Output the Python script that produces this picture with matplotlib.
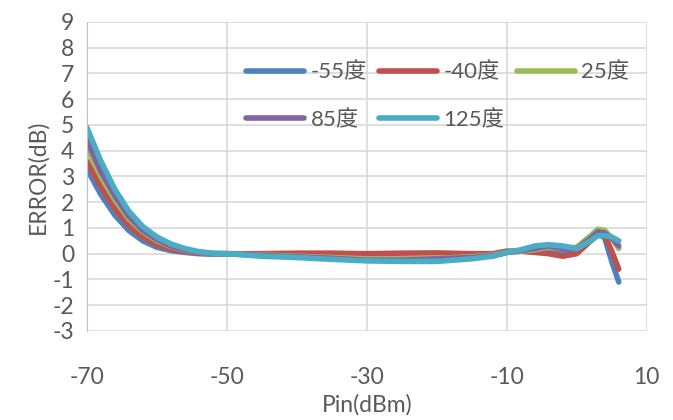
import numpy as np
import matplotlib
matplotlib.use("Agg")
import matplotlib.pyplot as plt

plt.rcParams['font.family'] = ['Lato', 'Noto Sans CJK SC', 'DejaVu Sans']
plt.rcParams['axes.unicode_minus'] = False

# data
pin = [-70, -68, -66, -64, -62, -60, -58, -56, -54, -52, -50, -45, -40, -35, -30,
       -25, -20, -15, -12, -10, -8, -6, -4, -2, 0, 2, 3, 4, 5, 6]
err_m55 = [3.3, 2.3, 1.5, 0.9, 0.5, 0.25, 0.12, 0.05, 0.0, -0.02, 0.0, -0.05, -0.1, -0.15, -0.2,
           -0.22, -0.22, -0.15, -0.08, 0.05, 0.1, 0.15, 0.2, 0.1, 0.15, 0.6, 0.8, 0.6, -0.3, -1.1]
err_m40 = [3.6, 2.6, 1.75, 1.1, 0.65, 0.35, 0.18, 0.08, 0.02, 0.0, 0.0, 0.0, 0.02, 0.02, 0.0,
           0.02, 0.03, 0.0, 0.0, 0.1, 0.1, 0.05, 0.0, -0.1, 0.0, 0.5, 0.75, 0.7, 0.1, -0.6]
err_25 = [4.1, 3.0, 2.1, 1.35, 0.85, 0.5, 0.28, 0.13, 0.05, 0.0, 0.0, -0.05, -0.1, -0.15, -0.2,
          -0.2, -0.18, -0.12, -0.05, 0.05, 0.1, 0.15, 0.25, 0.2, 0.25, 0.7, 0.95, 0.9, 0.6, 0.2]
err_85 = [4.4, 3.2, 2.25, 1.45, 0.9, 0.55, 0.3, 0.15, 0.06, 0.0, 0.0, -0.07, -0.12, -0.18, -0.25,
          -0.25, -0.2, -0.15, -0.08, 0.05, 0.12, 0.2, 0.3, 0.2, 0.2, 0.6, 0.85, 0.8, 0.6, 0.3]
err_125 = [4.9, 3.6, 2.5, 1.65, 1.05, 0.65, 0.38, 0.2, 0.08, 0.02, 0.0, -0.1, -0.15, -0.22, -0.28,
           -0.3, -0.3, -0.2, -0.1, 0.05, 0.15, 0.3, 0.35, 0.3, 0.2, 0.5, 0.7, 0.7, 0.65, 0.5]

labels = ['-55度', '-40度', '25度', '85度', '125度']
colors = ['#4F81BD', '#C0504D', '#9BBB59', '#8064A2', '#4BACC6']
series = [err_m55, err_m40, err_25, err_85, err_125]

fig = plt.figure(figsize=(6.73, 4.2), dpi=100)
ax = fig.add_axes([0.129, 0.212, 0.832, 0.736])

lines = []
for y, c, lab in zip(series, colors, labels):
    ln, = ax.plot(pin, y, color=c, lw=4, label=lab, solid_capstyle='round', solid_joinstyle='round')
    lines.append(ln)

ax.set_xlim(-70, 10)
ax.set_ylim(-3, 9)
ax.set_xticks([-70, -50, -30, -10, 10])
ax.set_yticks(range(-3, 10))
ax.grid(True, color='#D9D9D9', lw=1.2)
ax.set_axisbelow(True)
for s in ['top', 'right', 'bottom']:
    ax.spines[s].set_visible(False)
ax.spines['left'].set_color('#BFBFBF')
ax.tick_params(length=0, labelsize=16.5, colors='#595959')
ax.tick_params(axis='x', pad=26)
ax.tick_params(axis='y', pad=9)
ax.set_xlabel('Pin(dBm)', fontsize=16.5, color='#595959', labelpad=4)
ax.set_ylabel('ERROR(dB)', fontsize=16.5, color='#595959', labelpad=3)

# row-wise legend order: matplotlib fills columns first
order = [0, 3, 1, 4, 2]
fig.legend([lines[i] for i in order], [labels[i] for i in order],
           loc='upper left', bbox_to_anchor=(0.366, 0.852), ncol=3, frameon=False,
           borderpad=0, borderaxespad=0,
           fontsize=16, handlelength=2.6, columnspacing=0.55, handletextpad=0.3,
           labelspacing=1.2, labelcolor='#595959')

fig.savefig('out.png', dpi=100)
